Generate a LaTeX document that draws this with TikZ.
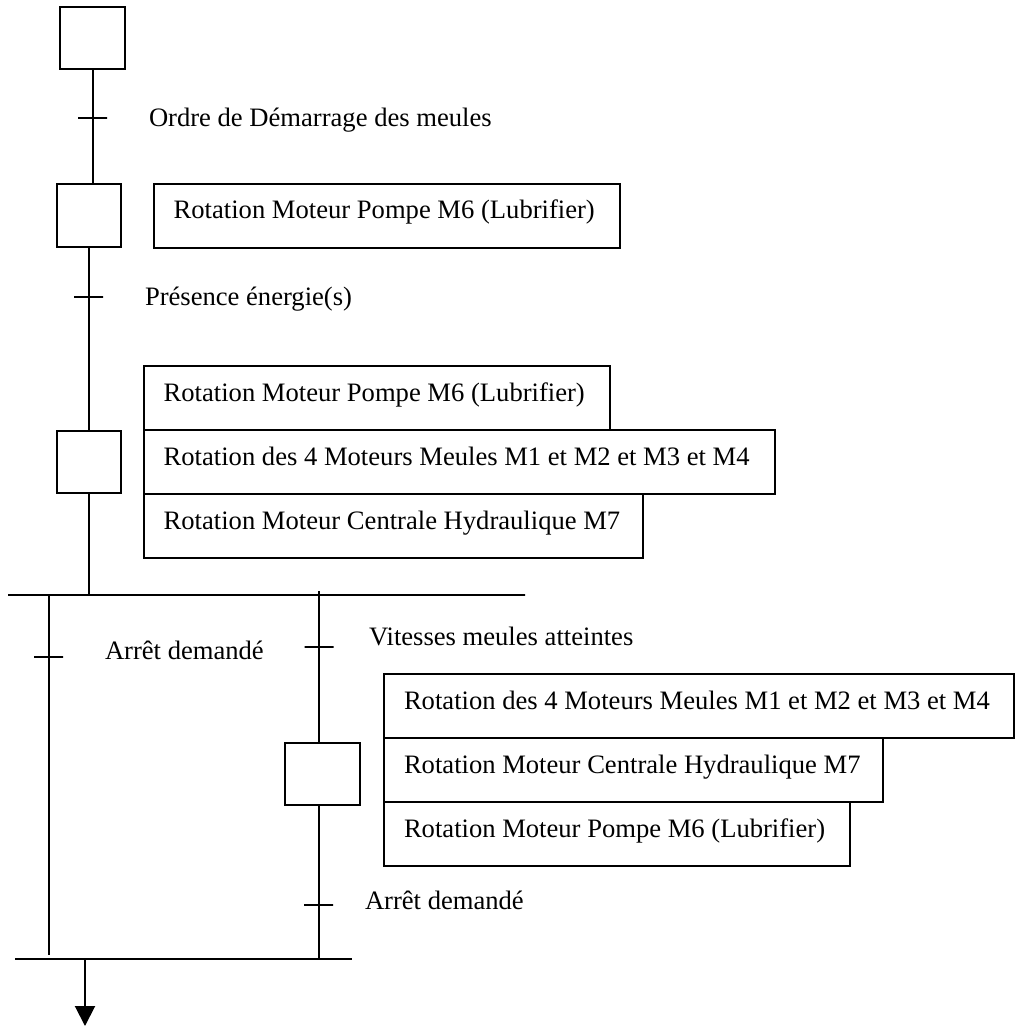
\documentclass[tikz,border=0pt]{standalone}
\usepackage{fontspec}
\setmainfont{Liberation Serif}
\usetikzlibrary{arrows.meta,calc}

\begin{document}
\begin{tikzpicture}[x=1pt,y=-1pt,
  line width=2pt,
  stepbox/.style={draw,rectangle,inner sep=0pt,minimum height=62pt},
  actbox/.style={draw,rectangle,inner sep=0pt,anchor=north west,minimum height=64pt},
  transbar/.style={draw,rectangle,inner sep=0pt,outer sep=0pt,minimum width=29pt,minimum height=0pt},
  busbar/.style={draw,rectangle,inner sep=0pt,outer sep=0pt,minimum height=0pt},
  lbl/.style={inner sep=0pt,anchor=base west,font=\fontsize{26.6pt}{30pt}\selectfont}]

\useasboundingbox (0,0) rectangle (1017,1033);

% ---- initial step and first transition
\node[stepbox,minimum width=65pt] (s0) at (92.5,38) {};
\node[stepbox,minimum width=64pt,minimum height=63pt] (s1) at (89,215.5) {};
\draw (s0.south) -- (s0.south |- s1.north);
\node[transbar] (t1) at (92.5,118) {};
\node[lbl] (c1) at (148,126.7) {Ordre de Démarrage des meules};

% ---- step 1 and its action
\node[actbox,minimum width=466.3pt,minimum height=64pt] (a1) at (152.7,183) {};
\node[lbl] at ($(a1.north west)+(20,35)$) {Rotation Moteur Pompe M6 (Lubrifier)};

% ---- second transition and step 2
\node[stepbox,minimum width=64.3pt] (s2) at (89.2,462) {};
\draw (s1.south) -- (s1.south |- s2.north);
\node[transbar] (t2) at (88.5,296.5) {};
\node[lbl] (c2) at (144,305) {Présence énergie(s)};

\node[actbox,minimum width=466.3pt] (a2a) at (142.7,365) {};
\node[actbox,minimum width=631.3pt] (a2b) at (142.7,429) {};
\node[actbox,minimum width=499pt]   (a2c) at (142.7,493) {};
\node[lbl] at ($(a2a.north west)+(20,36)$) {Rotation Moteur Pompe M6 (Lubrifier)};
\node[lbl] at ($(a2b.north west)+(20,36)$) {Rotation des 4 Moteurs Meules M1 et M2 et M3 et M4};
\node[lbl] at ($(a2c.north west)+(20,36)$) {Rotation Moteur Centrale Hydraulique M7};

% ---- divergence
\node[busbar,minimum width=517pt] (div) at (266.5,595) {};
\draw (s2.south) -- (s2.south |- div.center);

% ---- left branch
\coordinate (lb) at (49,595);
\coordinate (lbend) at (49,955);
\draw (lb) -- (lbend);
\node[transbar] (t3) at (48.5,657) {};
\node[lbl] (c3) at (104,659) {Arrêt demandé};

% ---- right branch
\coordinate (rb) at (318.7,591);
\node[stepbox,minimum width=75pt,minimum height=62.5pt] (s3) at (322.5,774) {};
\draw (rb) -- (rb |- s3.north);
\node[transbar] (t4) at (319,646.7) {};
\node[lbl] (c4) at (368,645.7) {Vitesses meules atteintes};

\node[actbox,minimum width=630pt]   (a3a) at (383,673) {};
\node[actbox,minimum width=498.7pt] (a3b) at (383,737) {};
\node[actbox,minimum width=466pt]   (a3c) at (383,801) {};
\node[lbl] at ($(a3a.north west)+(20,36)$) {Rotation des 4 Moteurs Meules M1 et M2 et M3 et M4};
\node[lbl] at ($(a3b.north west)+(20,36)$) {Rotation Moteur Centrale Hydraulique M7};
\node[lbl] at ($(a3c.north west)+(20,36)$) {Rotation Moteur Pompe M6 (Lubrifier)};

% ---- convergence and exit
\node[busbar,minimum width=336.7pt] (conv) at (183.4,958.7) {};
\draw (s3.south -| rb) -- (rb |- conv.center);
\node[transbar] (t5) at (318.5,905) {};
\node[lbl] (c5) at (364,909) {Arrêt demandé};

\coordinate (out) at (85,1026);
\draw[-{Triangle[width=20pt,length=20pt]}] (out |- conv.center) -- (out);

\end{tikzpicture}
\end{document}
